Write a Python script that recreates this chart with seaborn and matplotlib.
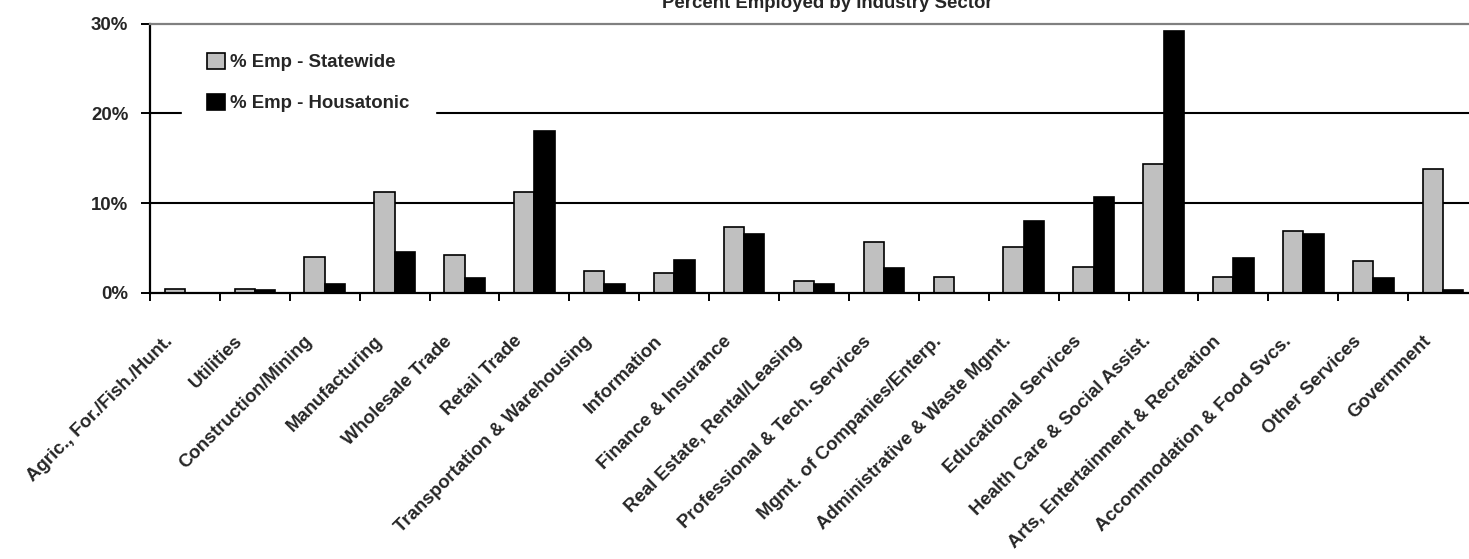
import matplotlib
matplotlib.use("Agg")
import matplotlib.pyplot as plt
import matplotlib.transforms as mtransforms
from matplotlib.ticker import FixedLocator, PercentFormatter
import seaborn as sns
import pandas as pd

categories = [
    "Agric., For./Fish./Hunt.", "Utilities", "Construction/Mining", "Manufacturing",
    "Wholesale Trade", "Retail Trade", "Transportation & Warehousing", "Information",
    "Finance & Insurance", "Real Estate, Rental/Leasing", "Professional & Tech. Services",
    "Mgmt. of Companies/Enterp.", "Administrative & Waste Mgmt.", "Educational Services",
    "Health Care & Social Assist.", "Arts, Entertainment & Recreation",
    "Accommodation & Food Svcs.", "Other Services", "Government",
]
statewide = [0.45, 0.45, 4.0, 11.2, 4.2, 11.2, 2.45, 2.2, 7.35, 1.35, 5.6, 1.8,
             5.15, 2.9, 14.3, 1.8, 6.9, 3.55, 13.8]
housatonic = [0.0, 0.25, 0.95, 4.5, 1.65, 18.05, 0.95, 3.6, 6.5, 0.95, 2.7, 0.0,
              8.05, 10.7, 29.2, 3.85, 6.5, 1.6, 0.25]
series_names = ["% Emp - Statewide", "% Emp - Housatonic"]
series_colors = ["#C0C0C0", "#000000"]
y_ticks = [0, 10, 20, 30]
title_text = "Percent Employed by Industry Sector"

df = pd.DataFrame({
    "sector": categories * 2,
    "value": statewide + housatonic,
    "series": [series_names[0]] * len(categories) + [series_names[1]] * len(categories),
})

sns.set_theme(style="white")
plt.rcParams["font.family"] = ["Liberation Sans", "DejaVu Sans"]
FS = 13.4

fig = plt.figure(figsize=(14.69, 5.59), dpi=100)
W, H = 1469, 559
x_left, x_right = 150, 1478.1
y_zero, y_top = 292.7, 23.7
ax = fig.add_axes([x_left / W, 1 - y_zero / H, (x_right - x_left) / W, (y_zero - y_top) / H])

sns.barplot(data=df, x="sector", y="value", hue="series", order=categories,
            hue_order=series_names, palette=series_colors, width=0.58,
            edgecolor="black", linewidth=1.2, ax=ax, legend=True)

ax.set_xlim(-0.5, len(categories) - 0.5)
ax.set_ylim(0, 30)
ax.set_axisbelow(True)
for yv in [10, 20]:
    ax.axhline(yv, color="black", linewidth=1.5, zorder=0.5)

ax.spines["right"].set_visible(False)
ax.spines["top"].set_color("#808080")
ax.spines["top"].set_linewidth(1.6)
for s in ["left", "bottom"]:
    ax.spines[s].set_color("black")
    ax.spines[s].set_linewidth(1.6)

ax.set_yticks(y_ticks)
ax.yaxis.set_major_formatter(PercentFormatter(decimals=0))
ax.tick_params(axis="y", direction="out", length=6.5, width=1.4, color="black",
               pad=9, labelsize=FS, left=True)
for lab in ax.get_yticklabels():
    lab.set_fontweight("bold")

# x: category boundaries as minor ticks, labels at centers
ax.xaxis.set_minor_locator(FixedLocator([i - 0.5 for i in range(len(categories) + 1)]))
ax.tick_params(axis="x", which="minor", direction="out", length=6, width=1.4,
               color="black", bottom=True)
ax.tick_params(axis="x", which="major", length=0, pad=0, labelsize=FS)
ax.set_xticks(range(len(categories)))
ax.set_xticklabels(categories, rotation=45, ha="right", va="top",
                   rotation_mode="anchor", fontweight="bold")
offset = mtransforms.ScaledTranslation(-21 / 100, -40 / 100, fig.dpi_scale_trans)
for lab in ax.get_xticklabels():
    lab.set_transform(lab.get_transform() + offset)

ax.set_xlabel("")
ax.set_ylabel("")

leg = ax.legend(loc="upper left", bbox_to_anchor=(0.024, 0.985), frameon=True,
                fancybox=False, facecolor="white", edgecolor="white", framealpha=1,
                borderpad=1.35, handlelength=0.95, handleheight=0.95, handletextpad=0.3,
                labelspacing=1.2, prop={"size": FS, "weight": "bold"}, borderaxespad=0)
leg.set_zorder(5)
for h in leg.legend_handles:
    h.set_edgecolor("black")
    h.set_linewidth(1.2)

fig.text((x_left + x_right) / 2 / W + 0.009, 1 - 8.5 / H, title_text, ha="center",
         va="baseline", fontsize=FS, fontweight="bold")

fig.savefig("out.png", dpi=100)
